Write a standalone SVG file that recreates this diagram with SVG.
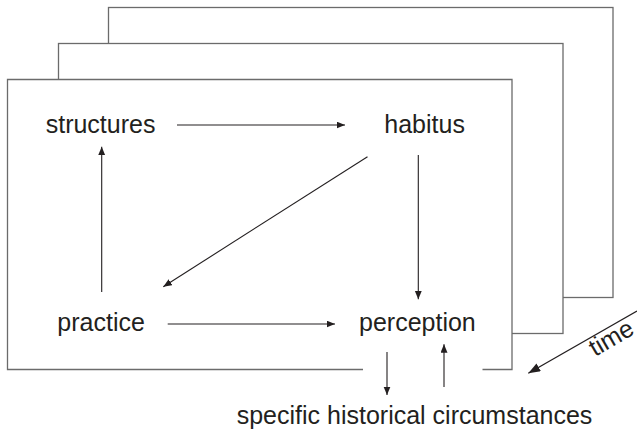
<svg xmlns="http://www.w3.org/2000/svg" width="637" height="437" viewBox="0 0 637 437">
<style>
.frame{fill:#fff;stroke:#6b6b6b;stroke-width:1.3}
.edge{fill:none;stroke:#6b6b6b;stroke-width:1.3}
.lbl{font-family:"Liberation Sans",Arial,sans-serif;font-size:25px;fill:#231f20}
.arr{stroke:#231f20;stroke-width:1.1;fill:none;marker-end:url(#ah)}
</style>
<defs>
<marker id="ah" markerUnits="userSpaceOnUse" markerWidth="9" markerHeight="8" refX="8.5" refY="3.5" orient="auto">
<path d="M0,0 L8.5,3.5 L0,7 z" fill="#231f20"/>
</marker>
<marker id="ahbig" markerUnits="userSpaceOnUse" markerWidth="13" markerHeight="10" refX="12" refY="4.5" orient="auto">
<path d="M0,0 L12,4.5 L0,9 z" fill="#231f20"/>
</marker>
</defs>
<g id="frames">
<rect id="frame3" class="frame" x="108.5" y="7.5" width="504.5" height="290"/>
<rect id="frame2" class="frame" x="58.5" y="43.5" width="504.5" height="290"/>
<rect x="7.5" y="79.5" width="504.5" height="290" fill="#fff"/>
<path id="frame1" class="edge" d="M363,369.5 H7.5 V79.5 H512 V369.5 H482.5"/>
</g>
<g id="structures"><text class="lbl" x="45.7" y="133">structures</text></g>
<g id="habitus"><text class="lbl" x="384.3" y="133">habitus</text></g>
<g id="practice"><text class="lbl" x="57.3" y="331">practice</text></g>
<g id="perception"><text class="lbl" x="359" y="331">perception</text></g>
<g id="circumstances"><text class="lbl" x="236.7" y="424">specific historical circumstances</text></g>
<g id="time"><text class="lbl" transform="translate(595,357) rotate(-30)">time</text></g>
<g id="connectors">
<line class="arr" x1="177" y1="125" x2="345" y2="125"/>
<line class="arr" x1="101.7" y1="292" x2="101.7" y2="146.7"/>
<line class="arr" x1="367.5" y1="156.7" x2="163.3" y2="286.7"/>
<line class="arr" x1="418.3" y1="155" x2="418.3" y2="299.3"/>
<line class="arr" x1="167.7" y1="324" x2="335" y2="324"/>
<line class="arr" x1="387" y1="352" x2="387" y2="395"/>
<line class="arr" x1="444" y1="387" x2="444" y2="344.3"/>
<line x1="637" y1="311" x2="528.3" y2="373.3" stroke="#231f20" stroke-width="1.3" marker-end="url(#ahbig)"/>
</g>
</svg>
